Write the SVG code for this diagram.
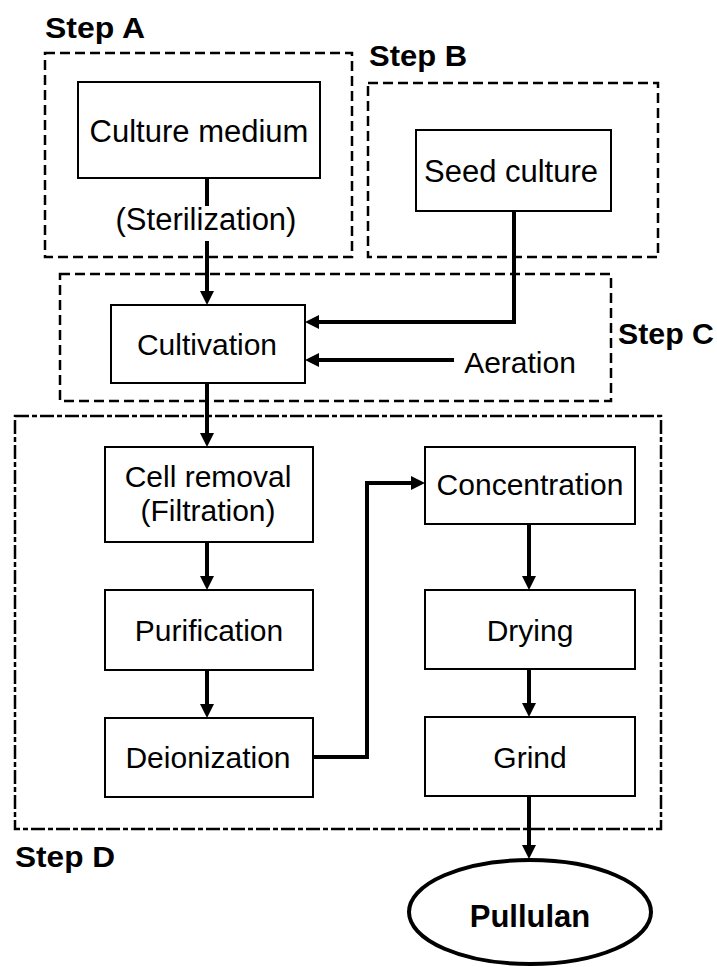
<svg xmlns="http://www.w3.org/2000/svg" width="717" height="967" viewBox="0 0 717 967">
<defs>
<marker id="ah" viewBox="0 0 14 14" markerWidth="14" markerHeight="14" refX="8" refY="7" orient="auto" markerUnits="userSpaceOnUse">
<path d="M0,0 L14,7 L0,14 z" fill="#000"/>
</marker>
</defs>
<style>
.bg{fill:#fff}
.step{fill:none;stroke:#000;stroke-width:2.5;stroke-dasharray:10 5}
.stepd{fill:none;stroke:#000;stroke-width:2.5;stroke-dasharray:14 3 5 3}
.box{fill:#fff;stroke:#000;stroke-width:2}
.t{font-family:"Liberation Sans",Arial,sans-serif;font-size:30px;fill:#000;text-anchor:middle}
.lb{font-family:"Liberation Sans",Arial,sans-serif;font-size:29px;font-weight:bold;fill:#000}
.c{fill:none;stroke:#000;stroke-width:4}
.ca{fill:none;stroke:#000;stroke-width:4;marker-end:url(#ah)}
</style>
<rect class="bg" x="0" y="0" width="717" height="967"/>

<g id="stepA">
<rect class="step" x="45" y="53" width="307" height="204"/>
<text class="lb" x="45" y="38" textLength="100" lengthAdjust="spacingAndGlyphs">Step A</text>
</g>
<g id="stepB">
<rect class="step" x="368" y="83" width="290" height="174"/>
<text class="lb" x="369" y="66" textLength="98" lengthAdjust="spacingAndGlyphs">Step B</text>
</g>
<g id="stepC">
<rect class="step" x="60" y="274" width="551" height="127"/>
<text class="lb" x="618" y="344" textLength="96" lengthAdjust="spacingAndGlyphs">Step C</text>
</g>
<g id="stepD">
<rect class="stepd" x="15" y="416" width="646" height="413"/>
<text class="lb" x="15" y="867" textLength="100" lengthAdjust="spacingAndGlyphs">Step D</text>
</g>

<g id="connectors">
<path class="c" d="M207 178 V206"/>
<path class="ca" d="M207 241 V299"/>
<path class="ca" d="M514 211 V322 H311"/>
<path class="ca" d="M454 360 H311"/>
<path class="ca" d="M207 383 V441"/>
<path class="ca" d="M207 542 V584"/>
<path class="ca" d="M207 670 V712"/>
<path class="ca" d="M313 757 H367 V483 H419"/>
<path class="ca" d="M529 524 V584"/>
<path class="ca" d="M529 669 V711"/>
<path class="ca" d="M529 796 V853"/>
</g>

<g id="culture-medium">
<rect class="box" x="78" y="82" width="242" height="96"/>
<text class="t" x="199" y="142" style="font-size:31px">Culture medium</text>
</g>
<g id="sterilization">
<text class="t" x="206" y="230" style="font-size:31px">(Sterilization)</text>
</g>
<g id="seed-culture">
<rect class="box" x="416" y="130" width="195" height="81"/>
<text class="t" x="511" y="182" style="font-size:31px">Seed culture</text>
</g>
<g id="cultivation">
<rect class="box" x="111" y="305" width="194" height="78"/>
<text class="t" x="207" y="355">Cultivation</text>
</g>
<g id="aeration">
<text class="t" x="520" y="373">Aeration</text>
</g>
<g id="cell-removal">
<rect class="box" x="105" y="447" width="208" height="95"/>
<text class="t" x="208" y="487">Cell removal</text>
<text class="t" x="208" y="521">(Filtration)</text>
</g>
<g id="purification">
<rect class="box" x="105" y="590" width="208" height="80"/>
<text class="t" x="209" y="641">Purification</text>
</g>
<g id="deionization">
<rect class="box" x="105" y="718" width="208" height="79"/>
<text class="t" x="208" y="768">Deionization</text>
</g>
<g id="concentration">
<rect class="box" x="425" y="447" width="210" height="77"/>
<text class="t" x="530" y="495">Concentration</text>
</g>
<g id="drying">
<rect class="box" x="425" y="590" width="210" height="79"/>
<text class="t" x="530" y="641">Drying</text>
</g>
<g id="grind">
<rect class="box" x="425" y="717" width="210" height="79"/>
<text class="t" x="530" y="768">Grind</text>
</g>
<g id="pullulan">
<ellipse cx="530" cy="912" rx="121" ry="52" fill="#fff" stroke="#000" stroke-width="4"/>
<text class="lb" x="530" y="927" text-anchor="middle" style="font-size:31px">Pullulan</text>
</g>
</svg>
